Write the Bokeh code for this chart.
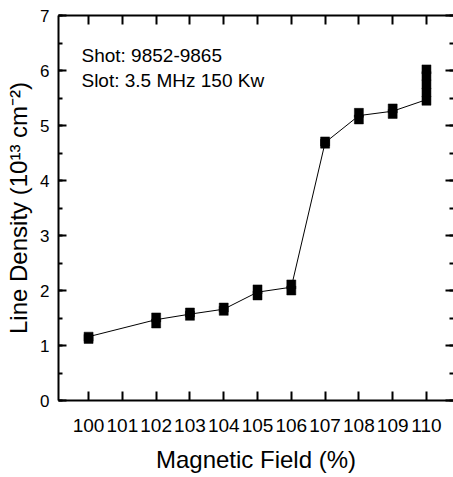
from bokeh.plotting import figure
from bokeh.models import LinearAxis, SingleIntervalTicker, FixedTicker, Range1d, Label
from bokeh.embed import file_html
from bokeh.resources import INLINE

# Data
field = [100, 102, 103, 104, 105, 106, 107, 108, 109, 110]
shots = [
    [1.12, 1.16],
    [1.40, 1.51],
    [1.54, 1.60],
    [1.63, 1.69],
    [1.91, 2.02],
    [2.00, 2.11],
    [4.67, 4.71],
    [5.11, 5.23],
    [5.21, 5.31],
    [5.45, 5.60, 5.75, 5.90, 6.02],
]
trend = [1.16, 1.47, 1.57, 1.66, 1.97, 2.06, 4.69, 5.18, 5.26, 5.47]
x_ticks = [100, 101, 102, 103, 104, 105, 106, 107, 108, 109, 110]
annotations = ["Shot: 9852-9865", "Slot: 3.5 MHz 150 Kw"]

FONT = "Liberation Sans"

p = figure(width=453, height=477, output_backend="svg", toolbar_location=None,
           x_range=Range1d(99.11, 110.80), y_range=Range1d(0, 7),
           min_border_left=58, min_border_right=0, min_border_top=15, min_border_bottom=77)
p.outline_line_color = None
p.xgrid.visible = False
p.ygrid.visible = False
p.background_fill_color = "white"

xt = FixedTicker(ticks=x_ticks, minor_ticks=[])
yt = SingleIntervalTicker(interval=1, num_minor_ticks=2)

def style_x(ax):
    ax.ticker = xt
    ax.axis_line_width = 2
    ax.major_tick_line_width = 2
    ax.major_tick_in = 9
    ax.major_tick_out = 0
    ax.minor_tick_in = 0
    ax.minor_tick_out = 0

def style_y(ax):
    ax.ticker = yt
    ax.axis_line_width = 2
    ax.major_tick_line_width = 2
    ax.minor_tick_line_width = 2
    ax.major_tick_in = 8
    ax.major_tick_out = 0
    ax.minor_tick_in = 4
    ax.minor_tick_out = 0

xa = p.xaxis[0]
style_x(xa)
xa.major_label_text_font = FONT
xa.major_label_text_font_size = "19px"
xa.major_label_text_color = "black"
xa.major_label_standoff = 18
xa.axis_label = "Magnetic Field (%)"
xa.axis_label_text_font = FONT
xa.axis_label_text_font_size = "24px"
xa.axis_label_text_font_style = "normal"
xa.axis_label_text_color = "black"
xa.axis_label_standoff = 11

ya = p.yaxis[0]
style_y(ya)
ya.major_label_text_font = FONT
ya.major_label_text_font_size = "17px"
ya.major_label_text_color = "black"
ya.major_label_standoff = 9
ya.axis_label = "Line Density (10\u00b9\u00b3 cm\u207b\u00b2)"
ya.axis_label_text_font = FONT
ya.axis_label_text_font_size = "24px"
ya.axis_label_text_font_style = "normal"
ya.axis_label_text_color = "black"
ya.axis_label_standoff = 5

top = LinearAxis()
style_x(top)
top.major_label_text_font_size = "1px"
top.major_label_text_color = None
top.major_label_standoff = 0
p.add_layout(top, "above")

right = LinearAxis()
style_y(right)
right.axis_line_color = None
right.major_label_text_font_size = "1px"
right.major_label_text_color = None
right.major_label_standoff = 0
p.add_layout(right, "right")

# Data marks
p.line(field, trend, line_color="black", line_width=1)
xs, ys = [], []
for f, vals in zip(field, shots):
    for v in vals:
        xs.append(f)
        ys.append(v)
p.scatter(xs, ys, marker="square", size=9, fill_color="black", line_color="black", line_width=0.5)

for txt, yv in zip(annotations, [6.27, 5.82]):
    p.add_layout(Label(x=99.79, y=yv, text=txt, text_font=FONT, text_font_size="19px",
                       text_color="black", text_baseline="alphabetic"))

open("out.html", "w").write(file_html(p, INLINE))
